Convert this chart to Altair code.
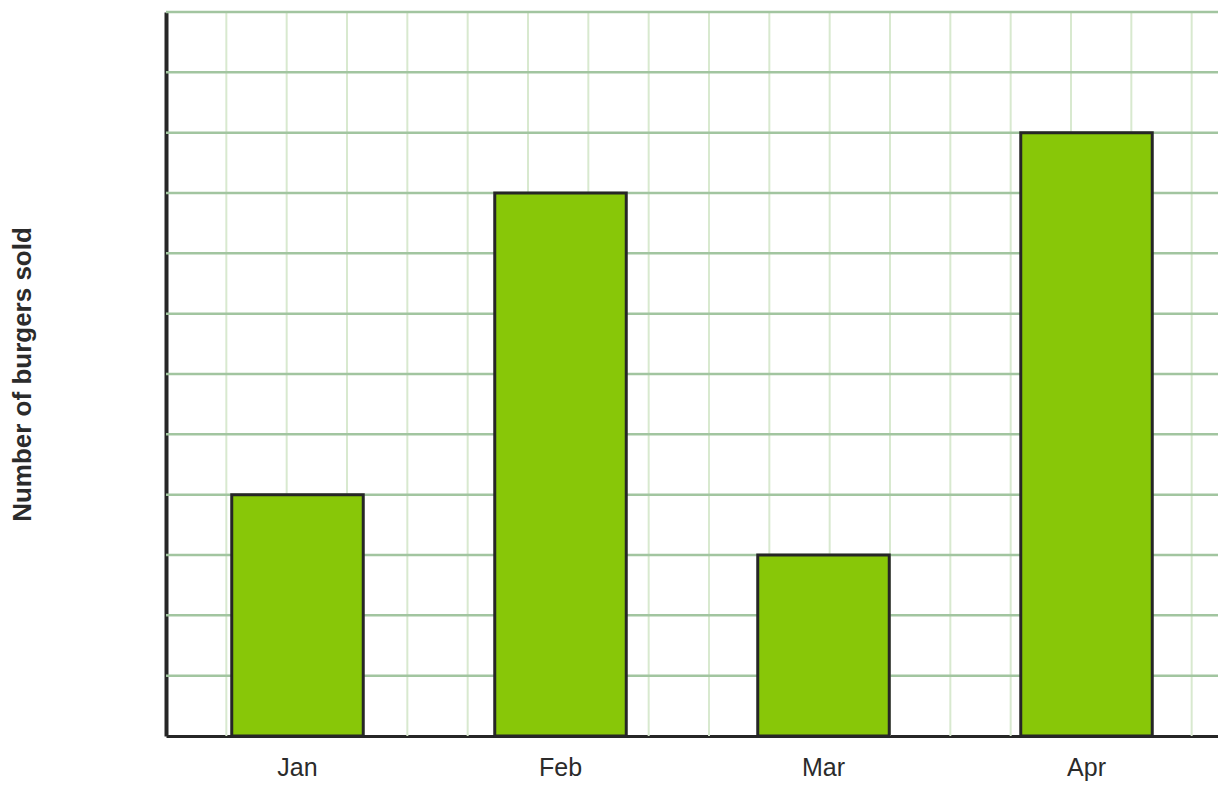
import altair as alt
import pandas as pd

months = ["Jan", "Feb", "Mar", "Apr"]
burgers = [4, 9, 3, 10]
grid_rows = list(range(1, 13))
grid_cols = list(range(1, 18))

bars_df = pd.DataFrame({"month": months, "burgers": burgers})
rows_df = pd.DataFrame({"r": grid_rows})
cols_df = pd.DataFrame({"c": grid_cols})

W, H = 1052, 724
y_scale = alt.Scale(domain=[0, 12], nice=False, zero=True)

y_axis = alt.Axis(
    title="Number of burgers sold",
    labels=False,
    ticks=False,
    grid=False,
    domainColor="#262626",
    domainWidth=4,
    titleFont="Liberation Sans",
    titleFontSize=26,
    titleFontWeight="bold",
    titleColor="#2b2b2b",
    titleAngle=-90,
    titleAlign="center",
    titleBaseline="middle",
    titleX=-144,
    titleY=362,
)

vgrid = alt.Chart(cols_df).mark_rule(color="#d8e9cf", strokeWidth=2).encode(
    x=alt.X("c:Q", scale=alt.Scale(domain=[0, W / (H / 12)], nice=False, zero=True), axis=None)
)

hgrid = alt.Chart(rows_df).mark_rule(color="#a2c5a0", strokeWidth=2.5).encode(
    y=alt.Y("r:Q", scale=y_scale, axis=y_axis)
)

bars = alt.Chart(bars_df).mark_bar(color="#88c708", stroke="#262626", strokeWidth=3).encode(
    x=alt.X(
        "month:N",
        sort=months,
        scale=alt.Scale(paddingInner=0.5, paddingOuter=0.25),
        axis=alt.Axis(
            title=None,
            labelAngle=0,
            labelFont="Liberation Sans",
            labelFontSize=25,
            labelColor="#2b2b2b",
            labelPadding=19,
            ticks=False,
            grid=False,
            domainColor="#262626",
            domainWidth=3,
        ),
    ),
    y=alt.Y("burgers:Q", scale=y_scale, axis=y_axis),
)

chart = (
    alt.layer(vgrid, hgrid, bars)
    .resolve_scale(x="independent")
    .properties(
        width=W,
        height=H,
        padding={"left": 158, "top": 4, "right": 0, "bottom": 46},
        autosize=alt.AutoSizeParams(type="none"),
        background="white",
    )
    .configure_view(stroke=None)
)

chart.save("out.html", embed_options={"renderer": "svg", "actions": False})
